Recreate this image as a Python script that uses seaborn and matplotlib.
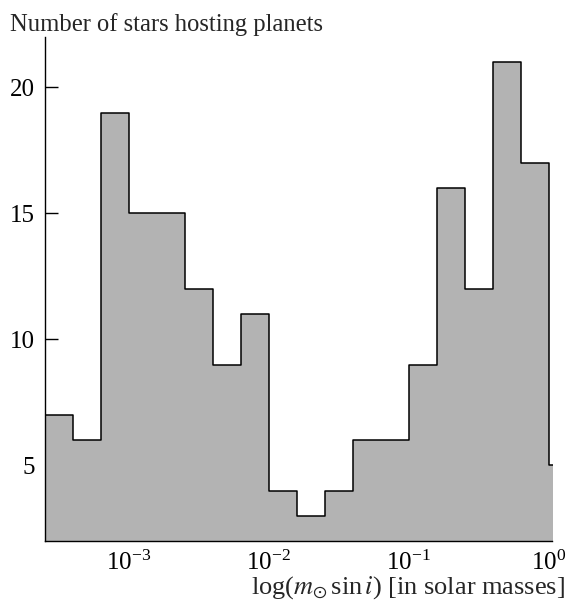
import numpy as np
import pandas as pd
import matplotlib
matplotlib.use("Agg")
import matplotlib.pyplot as plt
import seaborn as sns

# log10 bin edges (solar masses)
bin_edges_log = [-3.6, -3.4, -3.2, -3.0, -2.8, -2.6, -2.4, -2.2, -2.0, -1.8,
                 -1.6, -1.4, -1.2, -1.0, -0.8, -0.6, -0.4, -0.2, 0.0, 0.2]
counts = [7, 6, 19, 15, 15, 12, 9, 11, 4, 3, 4, 6, 6, 9, 16, 12, 21, 17, 5]
y_ticks = [5, 10, 15, 20]
x_ticks = [1e-3, 1e-2, 1e-1, 1e0]

sns.set_theme(style="ticks")
plt.rcParams["font.family"] = ["Liberation Serif", "DejaVu Serif"]
plt.rcParams["mathtext.fontset"] = "stix"

edges = np.array(bin_edges_log)
centers = 10 ** ((edges[:-1] + edges[1:]) / 2)
df = pd.DataFrame({"mass": centers, "n": counts})

fig = plt.figure(figsize=(5.66, 6.04), dpi=100)
ax = fig.add_axes([45 / 566, 1 - 541 / 604, (552 - 45) / 566, (541 - 37) / 604])

sns.histplot(data=df, x="mass", weights="n", bins=bin_edges_log, log_scale=True,
             element="step", fill=True, color="#b3b3b3", alpha=1.0,
             edgecolor="black", linewidth=1.1, ax=ax)

ax.set_xlim(10 ** -3.6, 10 ** 0.025)
ax.set_ylim(2, 22)
ax.set_xticks(x_ticks)
ax.set_yticks(y_ticks)
ax.minorticks_off()
ax.xaxis.set_minor_locator(matplotlib.ticker.NullLocator())
ax.tick_params(axis="both", direction="in", length=9, width=1.0, labelsize=18,
               colors="black")
ax.tick_params(axis="x", pad=7)
ax.tick_params(axis="y", pad=7)
for s in ["top", "right"]:
    ax.spines[s].set_visible(False)
for s in ["left", "bottom"]:
    ax.spines[s].set_linewidth(1.0)
    ax.spines[s].set_color("black")
ax.set_xlabel("")
ax.set_ylabel("")

fig.text(10 / 566, 1 - 31 / 604, "Number of stars hosting planets",
         ha="left", va="baseline", fontsize=17.7)
fig.text(565 / 566, 1 - 594 / 604,
         r"log($m_{\odot}\,$sin$\,i$) [in solar masses]",
         ha="right", va="baseline", fontsize=19)

fig.savefig("out.png", dpi=100)
